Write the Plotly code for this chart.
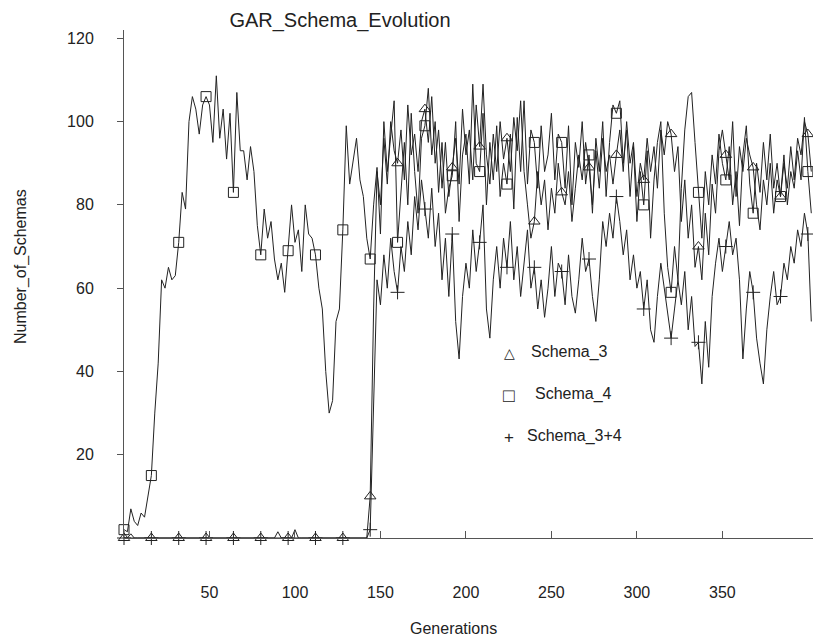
import plotly.graph_objects as go

schema_4 = [
    2, 1.5, 7, 4, 3, 6, 5, 10, 15, 30,
    42, 62, 60, 65, 62, 63, 71, 83, 79, 100,
    106, 103, 97, 104, 106, 104, 95, 111, 96, 103,
    91, 102, 83, 107, 93, 93, 86, 94, 88, 75,
    68, 79, 72, 76, 67, 62, 66, 59, 69, 80,
    71, 74, 64, 80, 73, 72, 68, 60, 55, 40,
    30, 33, 52, 55, 74, 99, 85, 91, 96, 86,
    82, 72, 67, 80, 89, 73, 100, 88, 97, 105,
    71, 84, 95, 80, 102, 88, 78, 96, 99, 108,
    92, 100, 83, 95, 78, 84, 87, 100, 76, 92,
    97, 85, 109, 90, 88, 102, 80, 95, 86, 99,
    82, 90, 85, 97, 79, 101, 88, 105, 85, 98,
    95, 84, 99, 88, 92, 102, 86, 97, 95, 84,
    99, 80, 95, 89, 100, 85, 92, 78, 96, 88,
    100, 82, 95, 104, 102, 105, 90, 98, 82, 94,
    76, 88, 80, 93, 72, 86, 95, 100, 78, 65,
    59, 70, 62, 84, 98, 106, 107, 95, 83, 72,
    88, 80, 92, 85, 97, 90, 86, 94, 80, 88,
    75, 92, 99, 85, 78, 90, 83, 95, 86, 97,
    84, 90, 82, 92, 80, 88, 84, 93, 86, 101,
    88, 78,
]

schema_3 = [
    0, 0, 1, 0, 0, 0, 0, 0, 0, 0,
    0, 0, 0, 0, 0, 0, 0, 0, 0, 0,
    0, 0, 0, 0, 0, 0, 0, 0, 0, 0,
    0, 0, 0, 0, 0, 0, 0, 0, 0, 0,
    0, 0, 0, 0, 0, 1.5, 0, 0, 0, 0,
    2, 0, 0, 0, 0, 0, 0, 0, 0, 0,
    0, 0, 0, 0, 0, 0, 0, 0, 0, 0,
    0, 0, 10, 55, 88, 80, 96, 85, 100, 93,
    90, 98, 86, 104, 92, 97, 88, 100, 103, 95,
    106, 90, 98, 84, 95, 82, 89, 96, 85, 103,
    92, 98, 86, 104, 94, 109, 92, 85, 97, 88,
    100, 91, 96, 88, 101, 93, 105, 88, 80, 72,
    76, 88, 80, 86, 74, 84, 78, 90, 83, 80,
    88, 76, 84, 92, 86, 95, 89, 80, 93, 84,
    96, 88, 92, 85, 92, 98, 88, 100, 90, 95,
    82, 90, 86, 96, 88, 94, 84, 98, 92, 100,
    97, 88, 94, 76, 86, 72, 80, 65, 70, 62,
    78, 68, 85, 78, 93, 98, 92, 86, 100, 82,
    94, 88, 96, 92, 89, 80, 74, 86, 80, 90,
    78, 86, 82, 90, 84, 94, 86, 96, 92, 100,
    97, 88,
]

schema_3_4 = [
    0, 0, 0, 0, 0, 0, 0, 0, 0, 0,
    0, 0, 0, 0, 0, 0, 0, 0, 0, 0,
    0, 0, 0, 0, 0, 0, 0, 0, 0, 0,
    0, 0, 0, 0, 0, 0, 0, 0, 0, 0,
    0, 0, 0, 0, 0, 0, 0, 0, 0, 0,
    0, 0, 0, 0, 0, 0, 0, 0, 0, 0,
    0, 0, 0, 0, 0, 0, 0, 0, 0, 0,
    0, 0, 2, 30, 62, 56, 68, 60, 72, 64,
    59, 70, 64, 76, 68, 82, 74, 86, 79, 72,
    84, 70, 78, 62, 72, 58, 73, 52, 43, 58,
    66, 60, 74, 64, 71, 80, 55, 48, 62, 70,
    60, 72, 65, 76, 62, 70, 58, 66, 74, 60,
    65, 55, 62, 53, 60, 70, 58, 66, 64, 56,
    68, 58, 54, 62, 72, 64, 67, 58, 52, 62,
    76, 70, 78, 72, 82, 76, 68, 74, 62, 68,
    60, 64, 55, 62, 50, 47, 58, 66, 60, 54,
    48, 55, 62, 56, 64, 50, 58, 46, 47, 37,
    52, 41, 58, 66, 72, 64, 70, 76, 68, 72,
    62, 43, 55, 64, 59, 48, 42, 37, 50, 58,
    64, 56, 58, 66, 62, 70, 66, 74, 70, 78,
    73, 52,
]

generations = list(range(0, 2 * len(schema_4), 2))
x_ticks = [50, 100, 150, 200, 250, 300, 350]
y_ticks = [20, 40, 60, 80, 100, 120]
MARK_EVERY = 8  # one marker every 16 generations

FONT = "Liberation Sans, Arial, Helvetica, sans-serif"
LINE_C = "#222222"
AX_C = "#555555"

series = [
    ("Schema_4", schema_4, "square-open"),
    ("Schema_3", schema_3, "triangle-up-open"),
    ("Schema_3+4", schema_3_4, "cross-thin-open"),
]

fig = go.Figure()
for name, ys, sym in series:
    gx = generations[: len(ys)]
    fig.add_trace(go.Scatter(
        x=gx, y=ys, mode="lines", name=name, showlegend=False,
        line=dict(color=LINE_C, width=1),
    ))
for name, ys, sym in series:
    gx = generations[: len(ys)]
    fig.add_trace(go.Scatter(
        x=gx[::MARK_EVERY], y=ys[::MARK_EVERY], mode="markers", name=name,
        showlegend=False, cliponaxis=False,
        marker=dict(symbol=sym, size=10, color=LINE_C,
                    line=dict(color=LINE_C, width=1)),
    ))

W, H = 813, 639
L, R, T, B = 124, 0, 30, 101
pw, ph = W - L - R, H - T - B


def px(xp):
    return (xp - L) / pw


def py(yp):
    return (H - B - yp) / ph


annotations = [
    dict(text="Generations", x=px(453), y=py(628), xref="paper", yref="paper",
         showarrow=False, xanchor="center", yanchor="middle",
         font=dict(size=16, color="#222")),
    dict(text="Number_of_Schemas", x=px(21), y=py(267), xref="paper", yref="paper",
         showarrow=False, textangle=-90, xanchor="center", yanchor="middle",
         font=dict(size=16, color="#222")),
]
legend_items = [
    ("△", "Schema_3", 353, 529, 14),
    ("□", "Schema_4", 395, 533, 19),
    ("+", "Schema_3+4", 437, 525, 17),
]
for sym, label, yp, xt, fs in legend_items:
    annotations.append(dict(text=sym, x=px(509), y=py(yp), xref="paper", yref="paper",
                            showarrow=False, xanchor="center", yanchor="middle",
                            font=dict(size=fs, color="#222")))
    annotations.append(dict(text=label, x=px(xt), y=py(yp - 1), xref="paper", yref="paper",
                            showarrow=False, xanchor="left", yanchor="middle",
                            font=dict(size=16, color="#222")))

fig.update_layout(
    width=W, height=H,
    margin=dict(l=L, r=R, t=T, b=B, pad=0, autoexpand=False),
    paper_bgcolor="white", plot_bgcolor="white",
    font=dict(family=FONT, color="#222", size=16),
    title=dict(text="GAR_Schema_Evolution", x=340 / W, xref="container", xanchor="center",
               y=1 - 20 / H, yref="container", yanchor="middle",
               font=dict(size=20, color="#222")),
    showlegend=False,
    annotations=annotations,
)
fig.update_xaxes(
    range=[0, 403], tickvals=x_ticks, ticks="inside", ticklen=7, tickcolor=AX_C,
    showline=True, linecolor=AX_C, linewidth=1, showgrid=False, zeroline=False,
    ticklabelstandoff=40, tickfont=dict(size=16), automargin=False,
)
fig.update_yaxes(
    range=[0, 122], tickvals=y_ticks, ticks="outside", ticklen=6, tickcolor=AX_C,
    showline=True, linecolor=AX_C, linewidth=1, showgrid=False, zeroline=False,
    ticklabelstandoff=20, tickfont=dict(size=16), automargin=False,
)

fig.write_html(
    "out.html",
    config={"displayModeBar": False},
    post_script="document.body.style.margin='0';document.body.style.overflow='hidden';",
)
